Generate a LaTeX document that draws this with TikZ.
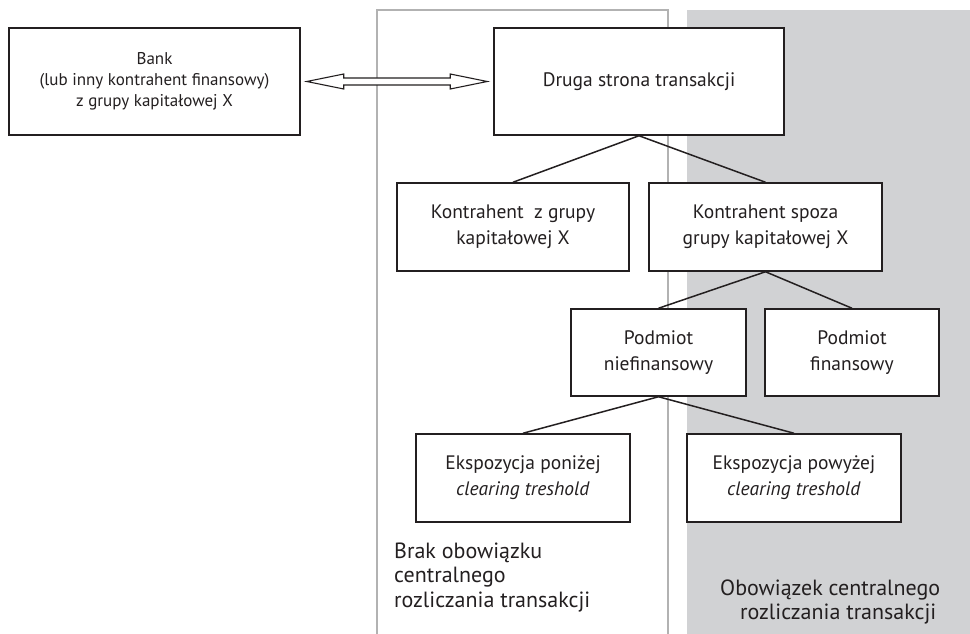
\documentclass[tikz,border=0pt]{standalone}
\usepackage{fontspec}
\setmainfont{PT Sans}
\usetikzlibrary{calc}
\definecolor{ink}{HTML}{231F20}
\definecolor{panelgray}{HTML}{D1D2D4}
\definecolor{panelline}{HTML}{B2B2B2}
\tikzset{
  box/.style={draw=ink, line width=1.5pt, fill=white, align=center, inner sep=0pt,
              font=\fontsize{19.5}{26}\selectfont, text=ink},
  smallbox/.style={box, font=\fontsize{17}{21}\selectfont},
  conn/.style={draw=ink, line width=1.5pt},
  arrowline/.style={draw=ink, line width=1.1pt, fill=white, line join=miter},
  bigtext/.style={align=left, inner sep=0pt, font=\fontsize{22}{24.5}\selectfont, text=ink}
}
\begin{document}
\begin{tikzpicture}[x=1pt, y=-1pt]
\useasboundingbox (0,0) rectangle (970,634);
% panels
\fill[panelgray] (687,10) rectangle (970,634);
\draw[panelline, line width=2pt] (377,634) -- (377,10) -- (668,10) -- (668,634);
% boxes
\node[smallbox, minimum width=291pt, minimum height=107pt] (bank) at (154.5,81.5)
  {Bank\\(lub inny kontrahent finansowy)\\z grupy kapitałowej X};
\node[box, minimum width=290pt, minimum height=107pt] (druga) at (639,81.5)
  {Druga strona transakcji};
\node[box, minimum width=232pt, minimum height=88pt] (kz) at (513,227)
  {Kontrahent~ z grupy\\kapitałowej X};
\node[box, minimum width=233pt, minimum height=88pt] (ks) at (765.5,227)
  {Kontrahent spoza\\grupy kapitałowej X};
\node[box, minimum width=175pt, minimum height=87pt] (pn) at (658.5,352.5)
  {Podmiot\\niefinansowy};
\node[box, minimum width=174pt, minimum height=87pt] (pf) at (852,352.5)
  {Podmiot\\finansowy};
\node[box, minimum width=214pt, minimum height=88pt] (ep) at (523,478)
  {Ekspozycja poniżej\\\textit{clearing treshold}};
\node[box, minimum width=214pt, minimum height=88pt] (ew) at (794,478)
  {Ekspozycja powyżej\\\textit{clearing treshold}};
% connectors
\draw[conn] (druga.south) -- (kz.north);
\draw[conn] (druga.south) -- (ks.north);
\draw[conn] (ks.south) -- (pn.north);
\draw[conn] (ks.south) -- (pf.north);
\draw[conn] (pn.south) -- (ep.north);
\draw[conn] (pn.south) -- (ew.north);
% double arrow
\coordinate (a1) at ($(bank.east)+(6,0)$);
\coordinate (a2) at ($(druga.west)+(-6,0)$);
\draw[arrowline] (a1) -- ++(37,-7.5) -- ++(0,4) -- ($(a2)+(-37,-3.5)$) -- ++(0,-4) -- (a2)
  -- ++(-37,7.5) -- ++(0,-4) -- ($(a1)+(37,3.5)$) -- ++(0,4) -- cycle;
% bottom texts
\node[bigtext, anchor=base west] (brak) at (394,607)
  {Brak obowiązku\\centralnego\\rozliczania transakcji};
\node[bigtext, anchor=base west] (obow) at (720,619.5)
  {Obowiązek centralnego\\\hspace*{20pt}rozliczania transakcji};
\end{tikzpicture}
\end{document}
